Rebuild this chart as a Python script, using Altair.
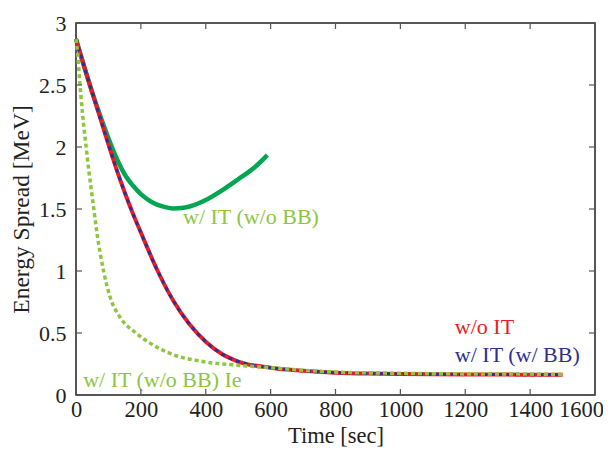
import altair as alt
import pandas as pd

# ---- data ----
t_red = [0, 25, 50, 75, 100, 125, 150, 175, 200, 250, 300, 350, 400, 450, 500, 600, 700, 800, 900, 1000, 1200, 1500]
v_red = [2.87, 2.65, 2.44, 2.23, 2.02, 1.82, 1.635, 1.465, 1.31, 1.01, 0.76, 0.57, 0.43, 0.33, 0.27, 0.22, 0.195, 0.18, 0.173, 0.17, 0.166, 0.163]

t_blue = t_red
v_blue = v_red

t_green = [0, 25, 50, 75, 100, 125, 150, 175, 200, 225, 250, 275, 300, 325, 350, 400, 450, 500, 550, 590]
v_green = [2.87, 2.65, 2.44, 2.25, 2.07, 1.91, 1.78, 1.69, 1.62, 1.57, 1.535, 1.515, 1.505, 1.508, 1.52, 1.572, 1.65, 1.74, 1.835, 1.935]

t_ie = [0, 5, 10, 20, 30, 40, 50, 65, 85, 105, 135, 185, 240, 290, 390, 500, 600, 700, 800, 1000, 1200, 1500]
v_ie = [2.87, 2.76, 2.58, 2.27, 2.03, 1.80, 1.60, 1.30, 1.00, 0.79, 0.63, 0.50, 0.40, 0.335, 0.27, 0.24, 0.22, 0.20, 0.185, 0.175, 0.17, 0.168]

label_text = ["w/ IT (w/o BB)", "w/o IT", "w/ IT (w/ BB)", "w/ IT (w/o BB) Ie"]
label_t = [330, 1168, 1168, 22]
label_v = [1.435, 0.55, 0.32, 0.12]
label_color = ["#8DC63F", "#ED1C24", "#2E3192", "#8DC63F"]

x_ticks = [0, 200, 400, 600, 800, 1000, 1200, 1400, 1600]
y_ticks = [0, 0.5, 1, 1.5, 2, 2.5, 3]

W, H = 519, 372
FONT = "Liberation Serif"

xs = alt.Scale(domain=[0, 1600], nice=False, zero=False)
ys = alt.Scale(domain=[0, 3], nice=False, zero=False)

xaxis = alt.Axis(values=x_ticks, format="d", title="Time [sec]", labelFontSize=22.5,
                 titleFontSize=22.5, labelPadding=3, titlePadding=4, labelOverlap=False,
                 labelFlush=False,
                 labelOffset={"condition": {"test": "datum.value == 1600", "value": -14}, "value": 0})
yaxis = alt.Axis(values=y_ticks, format="~g", title="Energy Spread [MeV]", labelFontSize=22,
                 titleFontSize=23.5, labelPadding=10, titlePadding=5, labelOverlap=False,
                 labelFlush=False)


def line(t, v, **mk):
    df = pd.DataFrame({"t": t, "v": v})
    return alt.Chart(df).mark_line(interpolate="monotone", **mk).encode(
        x=alt.X("t:Q", scale=xs, axis=xaxis),
        y=alt.Y("v:Q", scale=ys, axis=yaxis),
    )


green = line(t_green, v_green, color="#00A651", strokeWidth=4.5)
red = line(t_red, v_red, color="#ED1C24", strokeWidth=4)
blue = line(t_blue, v_blue, color="#2E3192", strokeWidth=3, strokeDash=[4, 4])
ie = line(t_ie, v_ie, color="#8DC63F", strokeWidth=3.5, strokeDash=[4, 3])

labels = alt.Chart(pd.DataFrame({"t": label_t, "v": label_v, "s": label_text, "c": label_color})).mark_text(
    align="left", baseline="middle", font=FONT, fontSize=22
).encode(
    x=alt.X("t:Q", scale=xs),
    y=alt.Y("v:Q", scale=ys),
    text="s:N",
    color=alt.Color("c:N", scale=None),
)

xt = pd.DataFrame({"t": x_ticks})
yt = pd.DataFrame({"v": y_ticks})
tick_style = dict(color="#555555", strokeWidth=1.2)
bx = alt.Chart(xt).mark_rule(**tick_style).encode(x=alt.X("t:Q", scale=xs), y=alt.value(H), y2=alt.value(H - 6))
tx = alt.Chart(xt).mark_rule(**tick_style).encode(x=alt.X("t:Q", scale=xs), y=alt.value(0), y2=alt.value(6))
ly = alt.Chart(yt).mark_rule(**tick_style).encode(y=alt.Y("v:Q", scale=ys), x=alt.value(0), x2=alt.value(6))
ry = alt.Chart(yt).mark_rule(**tick_style).encode(y=alt.Y("v:Q", scale=ys), x=alt.value(W), x2=alt.value(W - 6))

chart = alt.layer(green, red, blue, ie, labels, bx, tx, ly, ry).properties(
    width=W, height=H,
    autosize=alt.AutoSizeParams(type="none"),
    padding={"left": 68, "top": 15, "right": 8, "bottom": 56},
).configure_view(
    stroke="#231F20", strokeWidth=1.5
).configure_axis(
    domain=False, grid=False, ticks=False, tickSize=0,
    labelFont=FONT, titleFont=FONT, labelColor="#231F20", titleColor="#231F20",
    titleFontWeight="normal",
)

chart.save("out.html", embed_options={"renderer": "svg", "actions": False})
